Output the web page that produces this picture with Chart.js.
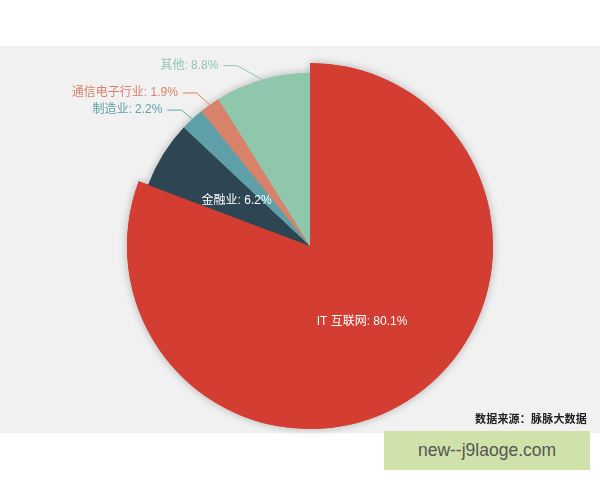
<!DOCTYPE html>
<html>
<head>
<meta charset="utf-8">
<script src="https://cdn.jsdelivr.net/npm/chart.js@4"></script>
<style>
  html, body { margin: 0; padding: 0; background: #ffffff; width: 600px; height: 480px; overflow: hidden; }
  #band { position: absolute; left: 0; top: 46px; width: 600px; height: 387px; background: #f1f1f1; }
  #wrap { position: absolute; left: 0; top: 0; width: 600px; height: 480px; }
  #source { position: absolute; right: 13px; top: 410px; font: bold 11px "Noto Sans CJK SC", sans-serif; color: #222; letter-spacing: 0.2px; }
  #mark { position: absolute; left: 384px; top: 431px; width: 206px; height: 39px; background: #cfe2a9;
          font: 17.5px "Liberation Sans", Arial, sans-serif; color: #555; text-align: center; line-height: 39px; }
</style>
</head>
<body>
<div id="band"></div>
<div id="wrap"><canvas id="c" width="600" height="480"></canvas></div>
<div id="source">数据来源：脉脉大数据</div>
<div id="mark">new--j9laoge.com</div>
<script>
const categories = ['IT 互联网', '金融业', '制造业', '通信电子行业', '其他'];
const shares = [80.1, 6.2, 2.2, 1.9, 8.8];

const sliceColors = ['#d43d31', '#2e4553', '#5fa0a8', '#d9826a', '#8fc7ad'];
const labelInside = [true, true, false, false, false];
// elbow offsets of the leader lines for outside labels (styling only)
const elbowOffset = [null, null, [-11, -9], [-13, -12], [-25, -14]];
const emphasisGrow = 10;

const growPlugin = {
  id: 'grow',
  afterDatasetsUpdate(chart) {
    const arc = chart.getDatasetMeta(0).data[0];
    if (arc) arc.outerRadius += emphasisGrow;
  }
};

const shadowPlugin = {
  id: 'shadow',
  beforeDatasetsDraw(chart) {
    const ctx = chart.ctx;
    ctx.save();
    ctx.shadowColor = 'rgba(0,0,0,0.28)';
    ctx.shadowBlur = 9;
    chart.getDatasetMeta(0).data.forEach(a => a.draw(ctx));
    ctx.restore();
  }
};

const labelPlugin = {
  id: 'labels',
  afterDatasetsDraw(chart) {
    const ctx = chart.ctx;
    const arcs = chart.getDatasetMeta(0).data;
    ctx.save();
    ctx.font = '12px "Liberation Sans", "Noto Sans CJK SC", sans-serif';
    ctx.textBaseline = 'middle';
    arcs.forEach((a, i) => {
      const text = categories[i] + ': ' + shares[i] + '%';
      const mid = (a.startAngle + a.endAngle) / 2;
      if (labelInside[i]) {
        const r = a.outerRadius / 2;
        ctx.fillStyle = '#ffffff';
        ctx.textAlign = 'center';
        ctx.fillText(text, a.x + Math.cos(mid) * r, a.y + Math.sin(mid) * r);
      } else {
        const sx = a.x + Math.cos(mid) * a.outerRadius;
        const sy = a.y + Math.sin(mid) * a.outerRadius;
        const ex = sx + elbowOffset[i][0];
        const ey = sy + elbowOffset[i][1];
        const hx = ex - 14;
        ctx.strokeStyle = sliceColors[i];
        ctx.lineWidth = 1;
        ctx.beginPath();
        ctx.moveTo(sx, sy);
        ctx.lineTo(ex, ey);
        ctx.lineTo(hx, ey);
        ctx.stroke();
        ctx.fillStyle = sliceColors[i];
        ctx.textAlign = 'right';
        ctx.fillText(text, hx - 5, ey);
      }
    });
    ctx.restore();
  }
};

new Chart(document.getElementById('c'), {
  type: 'pie',
  data: {
    labels: categories,
    datasets: [{
      data: shares,
      backgroundColor: sliceColors,
      borderWidth: 0,
      hoverOffset: 0,
      offset: 0
    }]
  },
  options: {
    responsive: false,
    animation: false,
    events: [],
    layout: { padding: { left: 137, right: 117, top: 73, bottom: 61 } },
    plugins: { legend: { display: false }, tooltip: { enabled: false } }
  },
  plugins: [growPlugin, shadowPlugin, labelPlugin]
});
</script>
</body>
</html>
